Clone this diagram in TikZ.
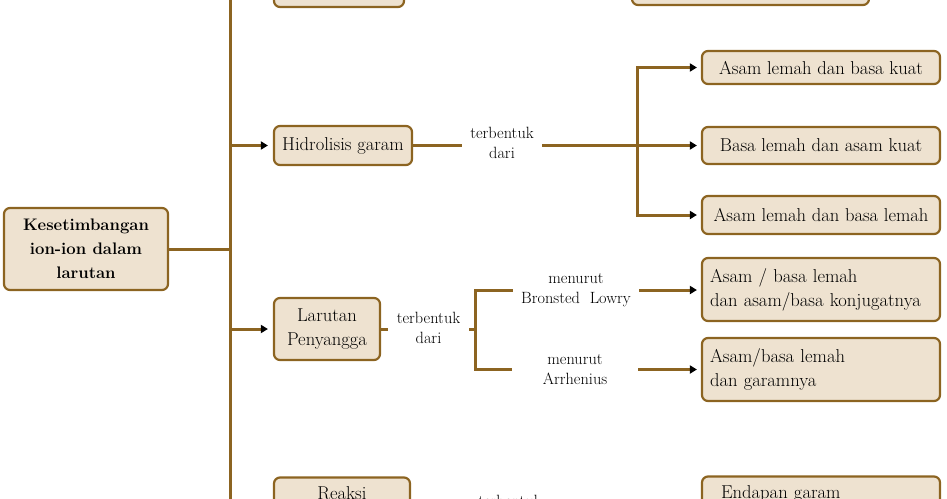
\documentclass[tikz,border=0pt]{standalone}
\usepackage{fontspec}
\usetikzlibrary{arrows.meta,calc}
\definecolor{brn}{HTML}{8C6421}
\definecolor{bfill}{HTML}{EEE2D0}
\tikzset{
 box/.style={draw=brn, fill=bfill, line width=2.2pt, rounded corners=6pt, inner sep=0pt, align=center, font=\fontsize{18.6}{24}\selectfont},
 lbox/.style={box, inner xsep=8pt, text width=222pt, align=left},
 lbl/.style={inner sep=0pt, align=center, font=\fontsize{16.3}{20}\selectfont},
 conn/.style={draw=brn, line width=3pt},
 arr/.style={conn, -{Triangle[length=7pt,width=8pt,color=black]}, shorten >=4pt},
}
\begin{document}
\begin{tikzpicture}[x=1pt,y=-1pt]
\useasboundingbox (0,0) rectangle (947,498);
\clip (0,0) rectangle (947,498);
% trunk
\coordinate (tkA) at (230,-60);
\coordinate (tkB) at (230,560);
\draw[conn] (tkA) -- (tkB);
% nodes
\node[box, font=\bfseries\fontsize{16.7}{24}\selectfont, minimum width=164pt, minimum height=82pt] (root) at (86,249) {Kesetimbangan\\ion-ion dalam\\larutan};
\node[box, minimum width=130pt, minimum height=38pt] (topL) at (339,-12) {};
\node[box, minimum width=237pt, minimum height=38pt] (topR) at (750.5,-14) {};
\node[box, minimum width=138pt, minimum height=39pt] (hid) at (343,145.5) {Hidrolisis garam};
\node[lbl, minimum width=80pt] (lab1) at (502,143) {terbentuk\\dari};
\coordinate (br1) at (637,145.5);
\node[box, minimum width=238pt, minimum height=33pt] (b1) at (821,67.5) {Asam lemah dan basa kuat};
\node[box, minimum width=238pt, minimum height=37pt] (b2) at (821,145.5) {Basa lemah dan asam kuat};
\node[box, minimum width=238pt, minimum height=38pt] (b3) at (821,215) {Asam lemah dan basa lemah};
\node[box, minimum width=106pt, minimum height=62pt] (lp) at (327,329) {Larutan\\Penyangga};
\node[lbl, minimum width=81pt] (lab2) at (428.5,327.5) {terbentuk\\dari};
\coordinate (br2) at (475,329);
\node[lbl, minimum width=126pt] (m1) at (576,290) {menurut\\Bronsted~~Lowry};
\node[lbl, minimum width=126pt] (m2) at (575,369.5) {menurut\\Arrhenius};
\node[lbox, minimum width=238pt, minimum height=63pt] (bl1) at (821,289.5) {Asam / basa lemah\\dan asam/basa konjugatnya};
\node[lbox, minimum width=238pt, minimum height=63pt] (bl2) at (821,369.5) {Asam/basa lemah\\dan garamnya};
\node[box, minimum width=136pt, minimum height=62pt] (rk) at (342,508.5) {Reaksi\\\strut};
\node[lbl, minimum width=80pt] (lab3) at (510,511) {terbentuk\\dari};
\node[lbox, minimum width=238pt, minimum height=63pt] (en) at (821,508) {\hspace*{11pt}Endapan garam\\\strut};
% connectors
\draw[conn] (root.east) -- (root.east -| tkA);
\draw[arr, shorten >=5pt] (tkA |- topL.west) -- (topL.west);
\draw[arr, shorten >=5pt] (tkA |- hid.west) -- (hid.west);
\draw[arr, shorten >=5pt] (tkA |- lp.west) -- (lp.west);
\draw[arr, shorten >=5pt] (tkA |- rk.west) -- (rk.west);
\draw[conn] (hid.east) -- (hid.east -| lab1.west);
\draw[arr] (lab1.east |- hid.east) -- (b2.west);
\draw[arr] (br1) |- (b1.west);
\draw[arr] (br1) |- (b3.west);
\draw[conn] (lp.east) -- (lp.east -| lab2.west);
\draw[conn] (lab2.east |- lp.east) -- (br2);
\draw[conn] (br2) |- (m1.west);
\draw[conn] (br2) |- (m2.west);
\draw[arr] (m1.east) -- (m1.east -| bl1.west);
\draw[arr] (m2.east) -- (m2.east -| bl2.west);
\draw[conn] (rk.east) -- (rk.east -| lab3.west);
\draw[arr] (lab3.east |- rk.east) -- (en.west);
\end{tikzpicture}
\end{document}
